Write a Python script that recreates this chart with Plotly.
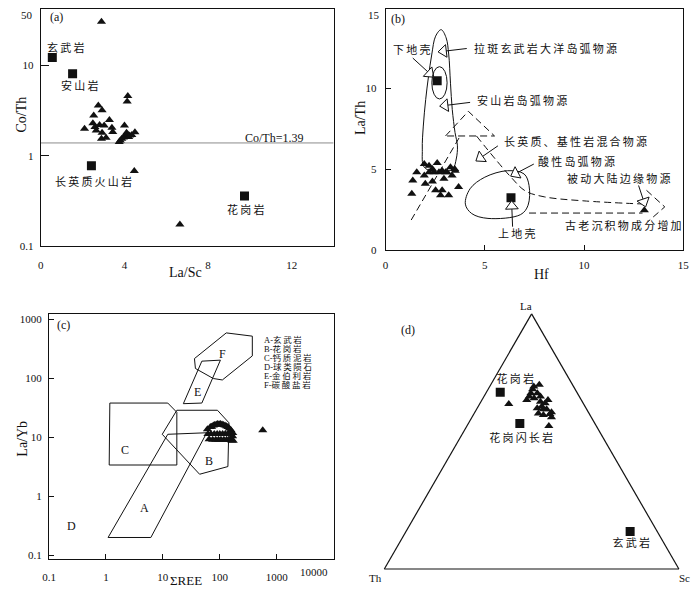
import math
import numpy as np
import plotly.graph_objects as go

# page body has an 8px margin: the figure is drawn from (8, 8) in the window
OFF = 8
W, H = 700 - OFF, 594 - OFF
FONT = "Liberation Serif, Noto Sans CJK SC, serif"
INK = "#111111"


def sp(s):
    return "\u2009".join(s)


def PX(x):
    return (x - OFF) / W


def PY(y):
    return min(1.0, max(0.0, 1 - (y - OFF) / H))


# ---------------- (a) La/Sc vs Co/Th ----------------
a_tri_lasc = [2.90, 4.16, 4.13, 2.75, 2.93, 2.53, 2.09, 2.49, 2.59, 2.81, 3.03, 3.28, 3.40, 3.44,
              2.65, 2.93, 2.90, 3.12, 4.00, 3.75, 3.80, 3.87, 3.95, 4.05, 4.15, 4.25, 4.35, 4.50,
              4.10, 4.20, 4.47, 6.65]
a_tri_coth = [30.4, 4.6, 4.0, 3.6, 3.2, 2.8, 2.0, 2.3, 2.08, 2.19, 2.17, 2.49, 2.05, 1.84,
              1.91, 1.80, 1.55, 1.59, 2.17, 1.42, 1.48, 1.55, 1.60, 1.66, 1.72, 1.68, 1.70, 1.82,
              1.80, 1.62, 0.68, 0.175]
a_rock_names = ["玄武岩", "安山岩", "长英质火山岩", "花岗岩"]
a_rock_lasc = [0.55, 1.52, 2.42, 9.74]
a_rock_coth = [12.2, 8.1, 0.78, 0.36]
a_label_x = [1.18, 1.87, 2.54, 9.79]
a_label_y = [15.9, 6.0, 0.52, 0.255]
a_coth_ref = 1.39
a_xrange = [0, 14]
a_yrange = [0.1, 50]

# ---------------- (b) Hf vs La/Th ----------------
b_tri_hf = [1.95, 2.19, 2.36, 2.60, 2.85, 3.02, 3.27, 3.48, 3.35, 1.57, 1.37, 1.95, 2.00,
            2.44, 2.36, 2.52, 2.85, 2.77, 3.18, 3.68, 1.32, 3.51, 2.19, 2.69, 3.10, 2.94, 13.04]
b_tri_lath = [5.32, 5.22, 5.02, 5.38, 4.91, 4.82, 5.12, 5.02, 4.61, 4.82, 4.31, 4.61, 4.10,
              4.82, 4.24, 3.70, 3.70, 3.39, 3.39, 3.90, 3.49, 4.91, 4.82, 4.82, 4.82, 4.41, 2.48]
b_crust_hf = [2.60, 6.32]
b_crust_lath = [10.46, 3.25]
b_outer_hf = [2.80, 3.05, 3.18, 3.27, 3.36, 3.50, 3.62, 3.56, 3.38, 2.69, 1.95, 1.85, 1.90,
              2.02, 2.16, 2.33, 2.52, 2.80]
b_outer_lath = [13.6, 13.1, 12.1, 10.3, 8.68, 7.26, 6.44, 5.63, 5.02, 4.82, 5.12, 6.24, 7.66,
                9.29, 10.7, 12.1, 13.2, 13.6]
b_inner_hf = [2.33, 3.10]
b_inner_lath = [9.33, 11.32]
b_egg_hf = [4.02, 4.26, 5.00, 6.15, 6.98, 7.23, 7.18, 6.81, 5.16, 4.34, 4.02]
b_egg_lath = [2.85, 3.80, 4.51, 4.91, 4.71, 4.00, 2.78, 2.21, 1.97, 2.27, 2.85]
b_d1_hf = [1.29, 3.76]
b_d1_lath = [1.87, 7.05]
b_d2_hf = [3.02, 4.17, 5.49, 3.02]
b_d2_lath = [7.05, 8.57, 7.05, 7.05]
b_d3_hf = [4.58, 6.32, 7.05, 8.0, 10.0, 12.92]
b_d3_lath = [7.05, 4.51, 3.66, 3.30, 3.05, 2.86]
b_d4_hf = [7.23, 12.95]
b_d4_lath = [2.30, 2.30]
b_d5_hf = [13.15, 14.07, 13.22]
b_d5_lath = [3.70, 2.68, 1.77]
b_arrow_tail_hf = [1.37, 4.09, 4.26, 5.66, 7.47, 12.75, 6.40]
b_arrow_tail_lath = [11.85, 12.44, 9.12, 6.44, 5.32, 4.00, 1.46]
b_arrow_head_hf = [2.22, 2.92, 3.00, 4.78, 6.55, 13.02, 6.36]
b_arrow_head_lath = [10.90, 12.27, 8.93, 5.70, 4.73, 3.00, 2.72]
b_texts = ["下地壳", "拉斑玄武岩大洋岛弧物源", "安山岩岛弧物源", "长英质、基性岩混合物源",
           "酸性岛弧物源", "被动大陆边缘物源", "古老沉积物成分增加", "上地壳"]
b_text_hf = [1.29, 4.34, 4.50, 5.87, 7.56, 11.76, 12.01, 6.60]
b_text_lath = [12.38, 12.44, 9.23, 6.68, 5.49, 4.41, 1.56, 1.05]
b_text_anchor = ["center", "left", "left", "left", "left", "center", "center", "center"]

# ---------------- (c) ΣREE vs La/Yb ----------------
c_poly = {
    "A": ([1.09, 12.2, 59.0, 6.15, 1.09], [0.20, 11.3, 12.0, 0.20, 0.20]),
    "B": ([17.6, 91.0, 145.0, 139.0, 44.2, 9.75, 17.6], [28.9, 28.9, 17.7, 3.2, 2.37, 11.3, 28.9]),
    "C": ([1.17, 12.2, 17.6, 17.6, 1.14, 1.17], [38.3, 38.3, 26.7, 3.4, 3.4, 38.3]),
    "E": ([22.9, 48.4, 102.6, 48.4, 22.9], [37.4, 197.0, 205.0, 38.3, 37.4]),
    "F": ([35.9, 130.0, 373.0, 373.0, 111.0, 76.9, 37.3, 35.9],
          [218.0, 595.0, 524.0, 242.0, 94.5, 100.0, 148.0, 218.0]),
}
c_poly_labels = ["A", "B", "C", "D", "E", "F"]
c_label_ree = [4.85, 65.6, 2.14, 0.244, 39.8, 109.6]
c_label_layb = [0.64, 4.02, 6.15, 0.318, 59.5, 264.0]
c_legend = ["A-玄武岩", "B-花岗岩", "C-钙质泥岩", "D-球类陨石", "E-金伯利岩", "F-碳酸盐岩"]
c_tri_ree = [60.7, 68.3, 76.9, 86.5, 97.4, 109.7, 123.5, 139.0, 156.5, 169.0,
             72.0, 81.0, 92.0, 103.0, 116.0, 131.0, 147.0,
             62.0, 70.0, 80.0, 90.0, 100.0, 112.0, 125.0, 140.0, 155.0, 168.0,
             65.0, 75.0, 85.0, 95.0, 105.0, 118.0, 132.0, 148.0, 162.0, 172.0,
             569.0]
c_tri_layb = [13.8, 15.0, 15.9, 16.5, 16.8, 16.5, 15.9, 15.0, 13.3, 11.9,
              15.2, 16.2, 16.9, 16.9, 16.3, 15.5, 14.2,
              11.4, 11.4, 11.4, 11.4, 11.4, 11.4, 11.4, 11.4, 11.4, 10.5,
              9.3, 9.1, 9.1, 9.1, 9.1, 9.1, 9.1, 9.0, 8.9, 8.8,
              13.2]
c_xticks = [0.1, 1, 10, 100, 1000, 10000]
c_yticks = [0.1, 1, 10, 100, 1000]

# ---------------- (d) La-Th-Sc ternary ----------------
d_tri_la = [0.647, 0.663, 0.561, 0.722, 0.705, 0.689, 0.669, 0.689, 0.656, 0.637, 0.650, 0.626,
            0.608, 0.595, 0.610, 0.630, 0.604, 0.715, 0.663, 0.676, 0.676, 0.626, 0.615]
d_tri_th = [0.254, 0.185, 0.161, 0.113, 0.144, 0.158, 0.157, 0.136, 0.142, 0.147, 0.129, 0.136,
            0.134, 0.135, 0.172, 0.166, 0.158, 0.135, 0.113, 0.132, 0.170, 0.147, 0.125]
d_tri_sc = [0.099, 0.152, 0.278, 0.165, 0.151, 0.153, 0.174, 0.175, 0.202, 0.216, 0.221, 0.238,
            0.258, 0.270, 0.218, 0.204, 0.238, 0.150, 0.224, 0.192, 0.154, 0.227, 0.260]
d_rock_names = ["花岗岩", "花岗闪长岩", "玄武岩"]
d_rock_la = [0.693, 0.570, 0.147]
d_rock_th = [0.260, 0.255, 0.092]
d_rock_sc = [0.047, 0.175, 0.761]
d_label_la = [0.739, 0.509, 0.097]
d_label_th = [0.186, 0.281, 0.113]
d_label_sc = [0.075, 0.210, 0.790]

# ---------------- figure ----------------
fig = go.Figure()
tri = dict(symbol="triangle-up", size=8, color=INK, line=dict(width=0))
sq = dict(symbol="square", size=9, color=INK, line=dict(width=0))
solid = dict(color=INK, width=1)
dashed = dict(color=INK, width=1, dash="7px,4px")

# (a)
fig.add_trace(go.Scatter(x=a_xrange, y=[a_coth_ref, a_coth_ref], mode="lines",
                         line=dict(color="#8c8c8c", width=1), xaxis="x", yaxis="y"))
fig.add_trace(go.Scatter(x=a_tri_lasc, y=a_tri_coth, mode="markers", marker=tri, xaxis="x", yaxis="y"))
fig.add_trace(go.Scatter(x=a_rock_lasc, y=a_rock_coth, mode="markers", marker=sq, xaxis="x", yaxis="y"))

# (b)
fig.add_trace(go.Scatter(x=b_outer_hf, y=b_outer_lath, mode="lines", line=dict(color=INK, width=1, shape="spline"),
                         xaxis="x2", yaxis="y2"))
fig.add_trace(go.Scatter(x=b_egg_hf, y=b_egg_lath, mode="lines", line=dict(color=INK, width=1, shape="spline"),
                         xaxis="x2", yaxis="y2"))
for xs, ys, shp in [(b_d1_hf, b_d1_lath, "linear"), (b_d2_hf, b_d2_lath, "linear"),
                    (b_d3_hf, b_d3_lath, "spline"), (b_d4_hf, b_d4_lath, "linear"),
                    (b_d5_hf, b_d5_lath, "linear")]:
    fig.add_trace(go.Scatter(x=xs, y=ys, mode="lines", line=dict(dashed, shape=shp), xaxis="x2", yaxis="y2"))
fig.add_trace(go.Scatter(x=b_tri_hf, y=b_tri_lath, mode="markers", marker=tri, xaxis="x2", yaxis="y2"))
fig.add_trace(go.Scatter(x=b_crust_hf, y=b_crust_lath, mode="markers", marker=sq, xaxis="x2", yaxis="y2"))

# axis pixel geometry as in the reference window (top edge clipped by the page margin)
a_box_px = (248.3, 1.0)            # bottom, top (window pixels)
top_px = float(OFF)
a_dec_px = (a_box_px[0] - a_box_px[1]) / (math.log10(a_yrange[1]) - math.log10(a_yrange[0]))
a_ytop = math.log10(a_yrange[1]) - (top_px - a_box_px[1]) / a_dec_px

b_dom_x = [385.7, 689.0]
b_dom_y = [1.0, 252.3]
b_xr = [0, 15]
b_yr_full = [0, 15.3]
pxx = (b_dom_x[1] - b_dom_x[0]) / (b_xr[1] - b_xr[0])
pxy = (b_dom_y[1] - b_dom_y[0]) / (b_yr_full[1] - b_yr_full[0])
b_yr = [0, b_yr_full[1] - (top_px - b_dom_y[0]) / pxy]

for tx, ty, hx, hy in zip(b_arrow_tail_hf, b_arrow_tail_lath, b_arrow_head_hf, b_arrow_head_lath):
    ang = math.degrees(math.atan2((hx - tx) * pxx, (hy - ty) * pxy))
    fig.add_trace(go.Scatter(x=[tx, hx], y=[ty, hy], mode="lines", line=solid, xaxis="x2", yaxis="y2"))
    fig.add_trace(go.Scatter(x=[hx], y=[hy], mode="markers",
                             marker=dict(symbol="triangle-up", size=11, color="white", angle=ang,
                                         line=dict(color=INK, width=1)),
                             xaxis="x2", yaxis="y2"))

# (c)
for key, (xs, ys) in c_poly.items():
    fig.add_trace(go.Scatter(x=xs, y=ys, mode="lines", line=solid, xaxis="x3", yaxis="y3"))
fig.add_trace(go.Scatter(x=c_tri_ree, y=c_tri_layb, mode="markers", marker=tri, xaxis="x3", yaxis="y3"))

# (d)
fig.add_trace(go.Scatterternary(a=d_tri_la, b=d_tri_th, c=d_tri_sc, mode="markers", marker=tri))
fig.add_trace(go.Scatterternary(a=d_rock_la, b=d_rock_th, c=d_rock_sc, mode="markers", marker=sq))
fig.add_trace(go.Scatterternary(a=d_label_la, b=d_label_th, c=d_label_sc, mode="text",
                                text=[sp(s) for s in d_rock_names],
                                textfont=dict(family=FONT, size=11, color=INK)))

axc = dict(showline=True, linecolor=INK, linewidth=1, mirror=True, showgrid=False, zeroline=False,
           tickfont=dict(family=FONT, size=11, color=INK), ticks="inside", ticklen=5,
           tickcolor=INK, ticklabelstandoff=4)

shapes = [dict(type="circle", xref="x2", yref="y2", x0=b_inner_hf[0], x1=b_inner_hf[1],
               y0=b_inner_lath[0], y1=b_inner_lath[1], line=solid)]

ann = []


def note(text, x, y, xref="paper", yref="paper", size=11, anchor="center", angle=0):
    ann.append(dict(text=text, x=x, y=y, xref=xref, yref=yref, showarrow=False,
                    xanchor=anchor, yanchor="middle", textangle=angle,
                    font=dict(family=FONT, size=size, color=INK)))


# (a) texts
for name, lx, ly in zip(a_rock_names, a_label_x, a_label_y):
    note(sp(name), lx, math.log10(ly), "x", "y", 11)
note("Co/Th=1.39", 11.17, math.log10(1.58), "x", "y", 12)
note("(a)", PX(50), PY(16), size=12)
note("50", PX(20), PY(14.5))
note("La/Sc", PX(181.7), PY(275), size=14)
note("Co/Th", PX(15), PY(115), size=14, angle=-90)

# (b) texts
for t, x, y, anc in zip(b_texts, b_text_hf, b_text_lath, b_text_anchor):
    note(sp(t), x, y, "x2", "y2", 11, anc)
note("(b)", PX(398.5), PY(18), size=12)
note("15", PX(374), PY(14.5))
note("Hf", PX(545), PY(276.7), size=14)
note("La/Th", PX(360), PY(118), size=14, angle=-90)

# (c) texts
for t, x, y in zip(c_poly_labels, c_label_ree, c_label_layb):
    note(t, math.log10(x), math.log10(y), "x3", "y3", 12)
legend_y = [343.3, 352.3, 361.3, 370.3, 379.3, 388.3]
for t, y in zip(c_legend, legend_y):
    note(t[:2] + sp(t[2:]), PX(259.5), PY(y), size=8.5, anchor="left")
note("(c)", PX(57.5), PY(327.5), size=12)
note("10000", PX(313), PY(578.3))
note("ΣREE", PX(182), PY(586), size=13)
note("La/Yb", PX(16), PY(443), size=14, angle=-90)

# (d) texts
note("(d)", PX(408.3), PY(333.3), size=12)
note("La", PX(529), PY(309), size=11)
note("Th", PX(375), PY(584), size=11)
note("Sc", PX(690), PY(584), size=11)

tern_ax = dict(showticklabels=False, ticks="", showgrid=False, showline=True, linecolor=INK,
               linewidth=1.2, title=dict(text=""))

fig.update_layout(
    width=W, height=H, margin=dict(l=0, r=0, t=0, b=0),
    paper_bgcolor="white", plot_bgcolor="white", showlegend=False,
    xaxis=dict(axc, domain=[PX(34.3), PX(332.7)], range=a_xrange, tickvals=[0, 4, 8, 12],
               ticks="", ticklabelstandoff=8, anchor="y"),
    yaxis=dict(axc, domain=[PY(a_box_px[0]), PY(top_px)], type="log",
               range=[math.log10(a_yrange[0]), a_ytop],
               tickvals=[0.1, 1, 10], ticktext=["0.1", "1", "10"], ticklen=8, anchor="x"),
    xaxis2=dict(axc, domain=[PX(b_dom_x[0]), PX(b_dom_x[1])], range=b_xr, tickvals=[0, 5, 10, 15],
                anchor="y2"),
    yaxis2=dict(axc, domain=[PY(b_dom_y[1]), PY(top_px)], range=b_yr, tickvals=[0, 5, 10],
                ticklabelstandoff=6, anchor="x2"),
    xaxis3=dict(axc, domain=[PX(42.7), PX(332.7)], type="log", range=[-1, 4],
                tickvals=c_xticks[:-1], ticktext=["0.1", "1", "10", "100", "1000"],
                ticklabelstandoff=7, anchor="y3"),
    yaxis3=dict(axc, domain=[PY(565), PY(316.7)], type="log", range=[-1.07, 3.095],
                tickvals=c_yticks, ticktext=["0.1", "1", "10", "100", "1000"], anchor="x3"),
    ternary=dict(domain=dict(x=[PX(384.4), PX(684.6)], y=[PY(575.7), PY(315.7)]), sum=1,
                 bgcolor="white", aaxis=tern_ax, baxis=tern_ax, caxis=tern_ax),
    shapes=shapes,
    annotations=ann,
)

fig.write_html("out.html")
